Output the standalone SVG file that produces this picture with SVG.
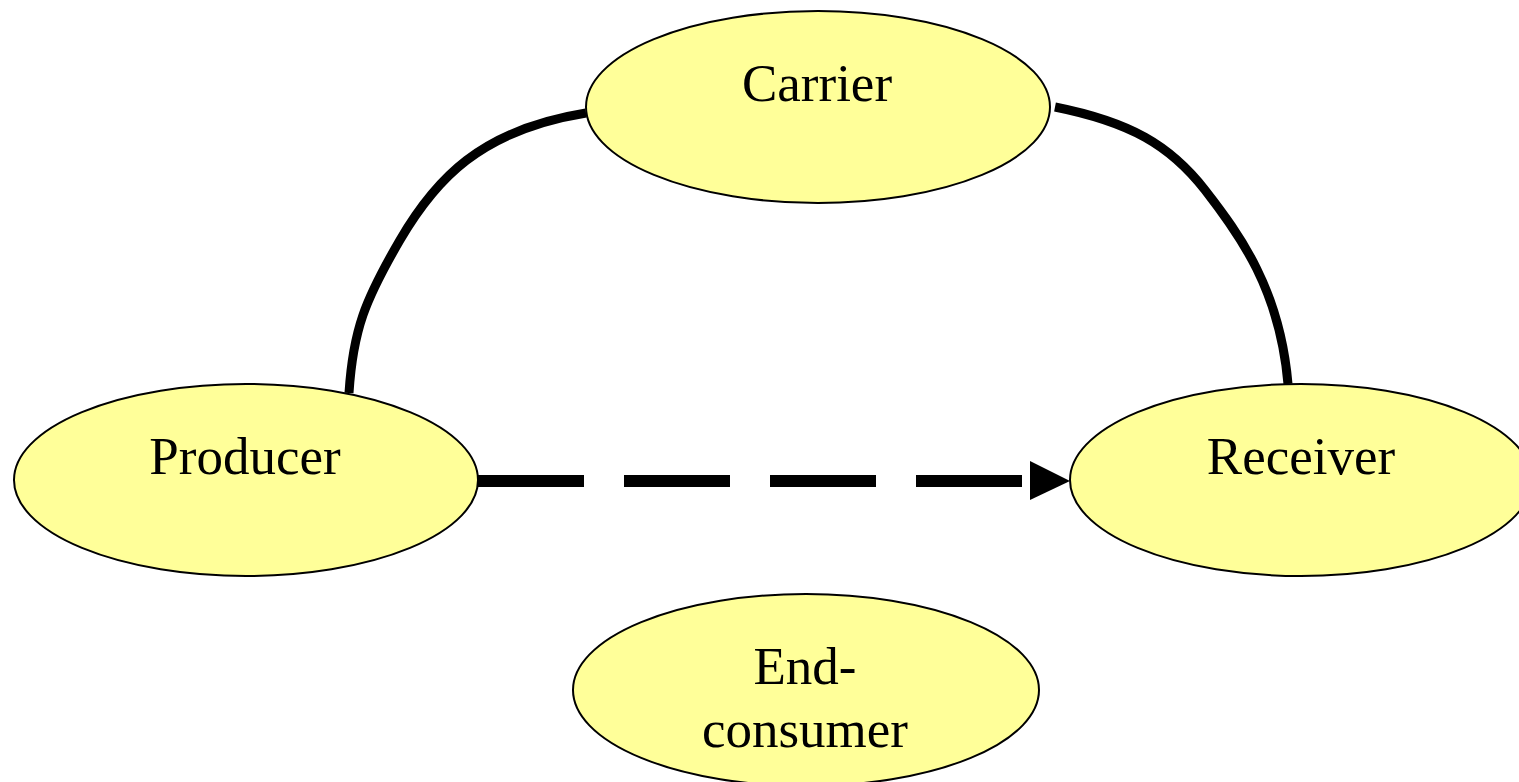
<svg xmlns="http://www.w3.org/2000/svg" width="1519" height="782" viewBox="0 0 1519 782">
<style>
.node{fill:#FFFF99;stroke:#000;stroke-width:2}
.lbl{font-family:"Liberation Serif","Times New Roman",serif;font-size:53px;fill:#000;text-anchor:middle}
.edge{fill:none;stroke:#000;stroke-width:9}
</style>
<rect width="1519" height="782" fill="#fff"/>
<g id="connectors">
<path class="edge" d="M349,393 C353,330 365,300 400,240 C435,180 480,130 586,113"/>
<path class="edge" d="M1055,107 C1130,122 1170,145 1205,190 C1240,235 1280,290 1288,384"/>
<line x1="478" y1="481" x2="1024" y2="481" stroke="#000" stroke-width="12" stroke-dasharray="106 40"/>
<polygon points="1030,461 1070,481 1030,500" fill="#000"/>
</g>
<g id="carrier">
<ellipse class="node" cx="818" cy="107" rx="232" ry="96"/>
<text class="lbl" x="817" y="101">Carrier</text>
</g>
<g id="producer">
<ellipse class="node" cx="246" cy="480" rx="232" ry="96"/>
<text class="lbl" x="245" y="474">Producer</text>
</g>
<g id="receiver">
<ellipse class="node" cx="1301" cy="480" rx="231" ry="96"/>
<text class="lbl" x="1301" y="474">Receiver</text>
</g>
<g id="endconsumer">
<ellipse class="node" cx="806" cy="690" rx="233" ry="96"/>
<text class="lbl" x="805" y="684">End-</text>
<text class="lbl" x="805" y="747">consumer</text>
</g>
</svg>
